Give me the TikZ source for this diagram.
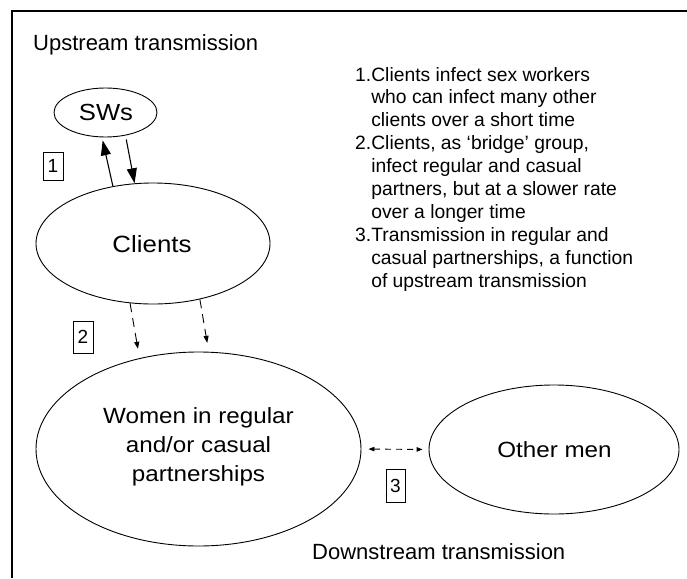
\documentclass[tikz,border=0pt]{standalone}
\usepackage{fontspec}
\setmainfont{Liberation Sans}
\newfontfamily\wfont[FakeStretch=1.1]{Liberation Sans}
\usetikzlibrary{shapes.geometric,arrows.meta}
\begin{document}
\begin{tikzpicture}[x=1pt,y=-1pt,
  oval/.style={draw, ellipse, line width=0.9pt, inner sep=0pt},
  elabel/.style={inner sep=0pt, anchor=base, align=center},
  numbox/.style={draw, line width=0.8pt, inner sep=0pt, font=\fontsize{19}{19}\selectfont},
  solidarr/.style={line width=1.1pt, -{Triangle[length=15pt,width=10pt]}},
  dasharr/.style={line width=0.9pt, dash pattern=on 9pt off 6pt, -{Triangle[length=7pt,width=5pt]}},
  biarr/.style={line width=0.9pt, dash pattern=on 6pt off 5pt, {Triangle[length=6pt,width=4.5pt]}-{Triangle[length=6pt,width=4.5pt]}},
  title/.style={inner sep=0pt, anchor=base west, font=\fontsize{22}{26}\selectfont}
]
\useasboundingbox (0,0) rectangle (687,578);
% frame
\draw[line width=2pt] (12,578) -- (12,11) -- (687,11);

% titles
\node[title] (up) at (33,51) {Upstream transmission};
\node[title] (down) at (312,559) {Downstream transmission};

% ellipses
\node[oval, minimum width=103pt, minimum height=49pt] (sws) at (105.5,112.5) {};
\node[oval, minimum width=234pt, minimum height=121pt] (clients) at (153,243.5) {};
\node[oval, minimum width=325pt, minimum height=194pt] (women) at (198.5,449) {};
\node[oval, minimum width=250pt, minimum height=129pt] (other) at (554,449.5) {};

% ellipse labels
\node[elabel, font=\wfont\fontsize{23.3}{28}\selectfont] (swsl) at (106,120) {SWs};
\node[elabel, font=\wfont\fontsize{23.5}{28}\selectfont] (clientsl) at (152,252) {Clients};
\node[elabel, font=\wfont\fontsize{22}{29}\selectfont] (womenl1) at (198.5,423) {Women in regular};
\node[elabel, font=\wfont\fontsize{22}{29}\selectfont] (womenl2) at (198.5,452) {and/or casual};
\node[elabel, font=\wfont\fontsize{22}{29}\selectfont] (womenl3) at (198.5,481) {partnerships};
\node[elabel, font=\wfont\fontsize{22}{29}\selectfont] (otherl) at (554.5,457) {Other men};

% number boxes
\node[numbox, minimum width=20pt, minimum height=28pt] (n1) at (53,166) {1};
\node[numbox, minimum width=20pt, minimum height=32pt] (n2) at (83,337) {2};
\node[numbox, minimum width=19pt, minimum height=33pt] (n3) at (395.5,485.5) {3};

% solid arrows
\draw[solidarr, shorten >=3pt] (clients.125) -- (sws.262);
\draw[solidarr, shorten <=4pt] (sws.311) -- (clients.107);

% dashed arrows
\draw[dasharr, shorten >=9.5pt] (clients.249) -- (women.123);
\draw[dasharr, shorten >=9pt] (clients.310) -- (women.84);
\draw[biarr, shorten <=7pt, shorten >=6pt] (women.east) -- (other.west);

% list
\node[inner sep=0pt, anchor=base west, font=\fontsize{19.3}{22.9}\selectfont] (list) at (355,81) {%
\begin{tabular}[t]{@{}l@{}l@{}}
1.&Clients infect sex workers\\
  &who can infect many other\\
  &clients over a short time\\
2.&Clients, as ‘bridge’ group,\\
  &infect regular and casual\\
  &partners, but at a slower rate\\
  &over a longer time\\
3.&Transmission in regular and\\
  &casual partnerships, a function\\
  &of upstream transmission
\end{tabular}};
\end{tikzpicture}
\end{document}
